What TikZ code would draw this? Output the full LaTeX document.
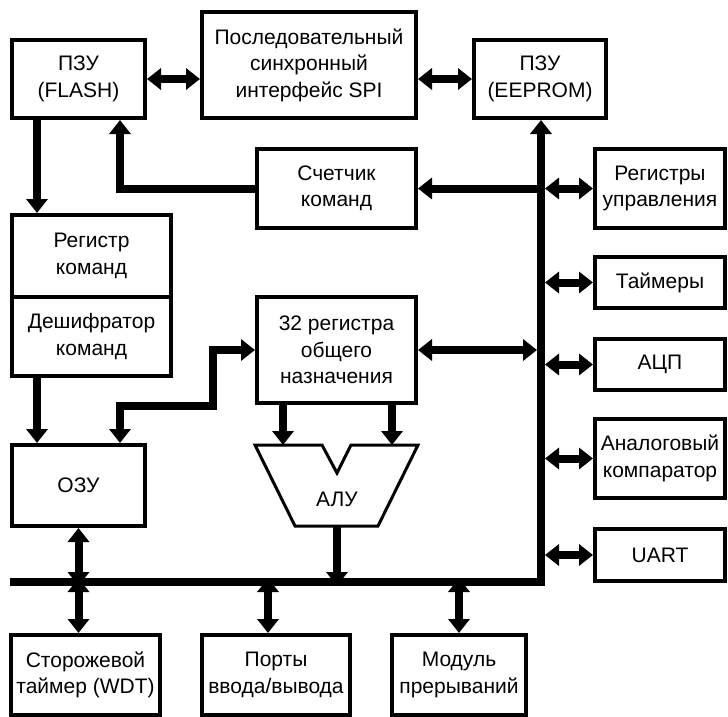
\documentclass[tikz,border=0pt]{standalone}
\usepackage{fontspec}
\setmainfont{Liberation Sans}
\usetikzlibrary{arrows.meta,positioning}
\tikzset{block/.style={draw,line width=4pt,align=center,inner sep=1pt,font=\fontsize{21}{26.5}\selectfont}}
\tikzset{tip/.tip={Triangle[width=21pt,length=14pt]}}
\tikzset{link/.style={line width=8pt,-tip}}
\tikzset{dlink/.style={line width=8pt,tip-tip}}
\tikzset{bus/.style={line width=8pt,line join=miter}}

\begin{document}
\begin{tikzpicture}[x=1pt,y=-1pt]
        \useasboundingbox (0,0) rectangle (728,717);
        % top row
        \node[block,minimum width=133pt,minimum height=78pt] (flash) at (78.5,79) {ПЗУ\\(FLASH)};
        \node[block,minimum width=214pt,minimum height=106pt] (spi) at (309,65) {Последовательный\\синхронный\\интерфейс SPI};
        \node[block,minimum width=132pt,minimum height=78pt] (eeprom) at (540,79) {ПЗУ\\(EEPROM)};
        % middle
        \node[block,minimum width=159pt,minimum height=79pt] (pc) at (336.5,188.5) {Счетчик\\команд};
        \node[block,minimum width=159pt,minimum height=82pt] (ir) at (91.5,256) {Регистр\\команд};
        \node[block,minimum width=159pt,minimum height=79pt] (dec) at (91.5,336.5) {Дешифратор\\команд};
        \node[block,minimum width=159pt,minimum height=106pt] (gpr) at (336.5,350) {32 регистра\\общего\\назначения};
        \node[block,minimum width=133pt,minimum height=81pt] (ram) at (78.5,485.5) {ОЗУ};
        % right column
        \node[block,minimum width=130pt,minimum height=79pt] (ctrlreg) at (660,188.5) {Регистры\\управления};
        \node[block,minimum width=130pt,minimum height=51pt] (timers) at (660,282.5) {Таймеры};
        \node[block,minimum width=130pt,minimum height=51pt] (adc) at (660,364.5) {АЦП};
        \node[block,minimum width=130pt,minimum height=79pt] (comp) at (660,458.5) {Аналоговый\\компаратор};
        \node[block,minimum width=130pt,minimum height=52pt] (uart) at (660,555) {UART};
        % bottom row
        \node[block,minimum width=149pt,minimum height=80pt] (wdt) at (85.5,675) {Сторожевой\\таймер (WDT)};
        \node[block,minimum width=148pt,minimum height=80pt] (ports) at (276,675) {Порты\\ввода/вывода};
        \node[block,minimum width=134pt,minimum height=80pt] (irq) at (459,675) {Модуль\\прерываний};
        % ALU
        \draw[line width=3pt,line join=miter] (255,445) -- (322,445) -- (337,473) -- (351,445) -- (418,445) -- (378,526) -- (295,526) -- cycle;
        \node[font=\fontsize{21}{26.5}\selectfont] (alu) at (337,499) {АЛУ};
        \coordinate (aluA) at (283,445);
        \coordinate (aluB) at (392,445);
        \coordinate (aluOut) at (337,526);
        % bus
        \coordinate (busL) at (10,582);
        \coordinate (busC) at (541,582);
        \coordinate (colA) at (37,0);
        \coordinate (colB) at (120,0);
        \coordinate (colC) at (213,0);
        \coordinate (colP) at (268,0);
        \draw[bus,-tip] (busL) -- (busC) -- (busC |- eeprom.south);
        % connections
        \draw[dlink] (flash.east) -- (flash.east -| spi.west);
        \draw[dlink] (spi.east |- eeprom.west) -- (eeprom.west);
        \draw[link] (flash.south -| colA) -- (ir.north -| colA);
        \draw[link,line join=miter] (pc.west) -| (flash.south -| colB);
        \draw[link] (busC |- pc.east) -- (pc.east);
        \draw[dlink] ([xshift=4pt]busC |- ctrlreg.west) -- (ctrlreg.west);
        \draw[dlink] ([xshift=4pt]busC |- timers.west) -- (timers.west);
        \draw[dlink] ([xshift=4pt]busC |- adc.west) -- (adc.west);
        \draw[dlink] ([xshift=4pt]busC |- comp.west) -- (comp.west);
        \draw[dlink] ([xshift=4pt]busC |- uart.west) -- (uart.west);
        \draw[dlink] (gpr.east) -- ([xshift=-4pt]busC |- gpr.east);
        \draw[link] (dec.south -| colA) -- (ram.north -| colA);
        \draw[dlink,line join=miter] (ram.north -| colB) -- (colB |- 0,406) -| (colC |- gpr.west) -- (gpr.west);
        \draw[link] (gpr.south -| aluA) -- (aluA);
        \draw[link] (gpr.south -| aluB) -- (aluB);
        \draw[link] (aluOut) -- ([yshift=-4pt]aluOut |- busC);
        \draw[dlink] (ram.south) -- ([yshift=-4pt]ram.south |- busL);
        \draw[dlink] ([yshift=4pt]ram.south |- busL) -- (ram.south |- wdt.north);
        \draw[dlink] ([yshift=4pt]busL -| colP) -- (ports.north -| colP);
        \draw[dlink] ([yshift=4pt]busL -| irq.north) -- (irq.north);
\end{tikzpicture}
\end{document}
